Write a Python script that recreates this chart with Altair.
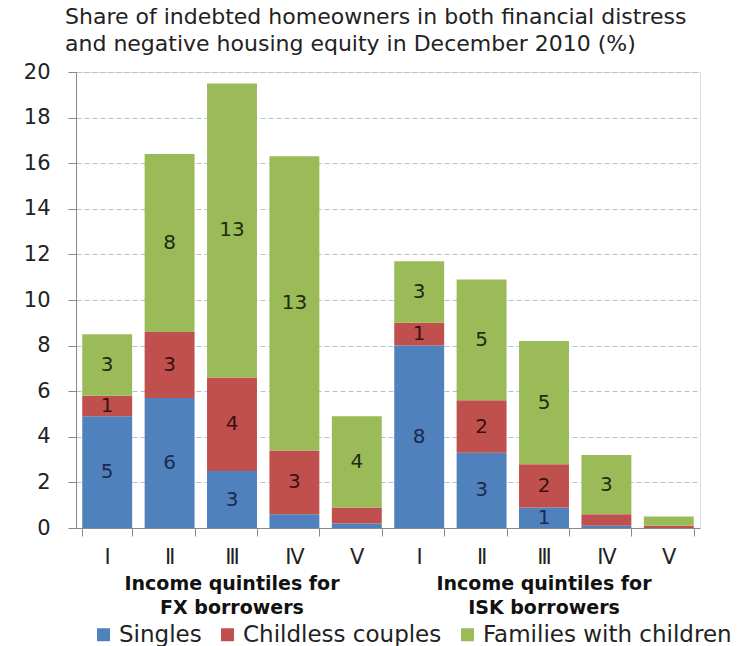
import altair as alt
import pandas as pd

# ---- data ----
categories = ["FX|I", "FX|Ⅱ", "FX|Ⅲ", "FX|Ⅳ", "FX|V",
              "ISK|I", "ISK|Ⅱ", "ISK|Ⅲ", "ISK|Ⅳ", "ISK|V"]
series_names = ["Singles", "Childless couples", "Families with children"]
singles = [4.9, 5.7, 2.5, 0.6, 0.2, 8.0, 3.3, 0.9, 0.1, 0.0]
couples = [0.9, 2.9, 4.1, 2.8, 0.7, 1.0, 2.3, 1.9, 0.5, 0.1]
families = [2.7, 7.8, 12.9, 12.9, 4.0, 2.7, 5.3, 5.4, 2.6, 0.4]
y_ticks = [0, 2, 4, 6, 8, 10, 12, 14, 16, 18, 20]
group_cats = ["FX|Ⅲ", "ISK|Ⅲ"]
group_line1 = ["Income quintiles for", "Income quintiles for"]
group_line2 = ["FX borrowers", "ISK borrowers"]
title_lines = ["Share of indebted homeowners in both financial distress",
               "and negative housing equity in December 2010 (%)"]

bar_colors = ["#4F81BD", "#C0504D", "#9BBB59"]
text_colors = ["#1c2b4d", "#3a1010", "#1f2b10"]
FONT = "DejaVu Sans"

rows = []
for i, cat in enumerate(categories):
    for k, (name, vals) in enumerate(zip(series_names, [singles, couples, families])):
        v = vals[i]
        rows.append({"cat": cat, "series": name, "order": k, "value": v,
                     "label": str(int(v + 0.5)) if v >= 0.8 else ""})
df = pd.DataFrame(rows)
gdf = pd.DataFrame({"cat": group_cats, "l1": group_line1, "l2": group_line2})

W, H = 624, 456

x_enc = alt.X("cat:N", sort=categories,
              scale=alt.Scale(paddingInner=0.2, paddingOuter=0.1),
              axis=alt.Axis(title=None, labelAngle=0, tickBand="extent",
                            labelExpr="split(datum.value, '|')[1]",
                            labelFont=FONT, labelFontSize=21, labelColor="#222",
                            labelPadding=10, tickSize=8, tickColor="#888",
                            domainColor="#888", grid=False))

base = alt.Chart(df).transform_stack(
    stack="value", groupby=["cat"], as_=["y0", "y1"],
    sort=[alt.SortField("order", order="ascending")]
).transform_calculate(mid="(datum.y0 + datum.y1) / 2")

bars = base.mark_bar().encode(
    x=x_enc,
    y=alt.Y("y0:Q", scale=alt.Scale(domain=[0, 20], nice=False),
            axis=alt.Axis(title=None, values=y_ticks, labelFont=FONT,
                          labelFontSize=21, labelColor="#222", labelPadding=18,
                          tickSize=8, tickColor="#888", domainColor="#888",
                          grid=True, gridColor="#AFC3D8", gridDash=[5, 3],
                          gridWidth=1)),
    y2="y1:Q",
    color=alt.Color("series:N", sort=series_names,
                    scale=alt.Scale(domain=series_names, range=bar_colors),
                    legend=alt.Legend(orient="none", legendX=16, legendY=551,
                                      direction="horizontal", title=None,
                                      symbolType="square", symbolSize=169,
                                      symbolStrokeWidth=0, labelFont=FONT,
                                      labelFontSize=23, labelColor="#222",
                                      columnPadding=14, labelOffset=4,
                                      padding=0, labelLimit=400)),
)

texts = base.transform_filter("datum.label != ''").mark_text(
    font=FONT, fontSize=20).encode(
    x=alt.X("cat:N", sort=categories),
    y=alt.Y("mid:Q"),
    text="label:N",
    color=alt.Color("series:N", scale=alt.Scale(domain=series_names, range=text_colors),
                    legend=None),
)

g1 = alt.Chart(gdf).mark_text(font=FONT, fontSize=19, fontWeight="bold",
                              color="#111", baseline="middle").encode(
    x=alt.X("cat:N", sort=categories), y=alt.value(H + 56), text="l1:N")
g2 = alt.Chart(gdf).mark_text(font=FONT, fontSize=19, fontWeight="bold",
                              color="#111", baseline="middle").encode(
    x=alt.X("cat:N", sort=categories), y=alt.value(H + 80), text="l2:N")

chart = alt.layer(bars, texts, g1, g2).resolve_scale(color="independent").properties(
    width=W, height=H,
    padding={"left": 76, "top": 72, "right": 53, "bottom": 118},
    autosize=alt.AutoSizeParams(type="none"),
    title=alt.TitleParams(text=title_lines, anchor="start", frame="group",
                          font=FONT, fontSize=22, fontWeight="normal",
                          color="#222", dx=-11, offset=5, lineHeight=27),
).configure_view(stroke=None).configure(background="white")

chart.save("out.html", embed_options={"renderer": "svg", "actions": False})
